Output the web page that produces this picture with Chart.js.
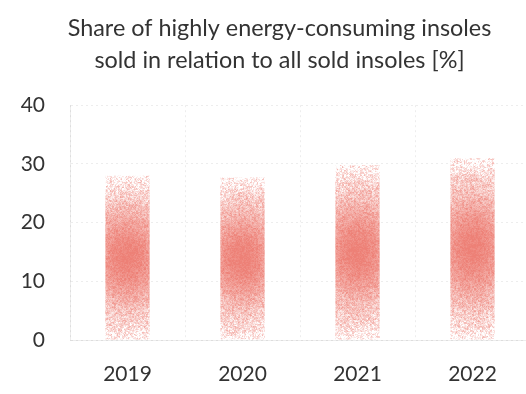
<!DOCTYPE html>
<html>
<head>
<meta charset="utf-8">
<script src="https://cdn.jsdelivr.net/npm/chart.js@4/dist/chart.umd.min.js"></script>
<style>
  html, body { margin: 0; padding: 0; background: #fff; overflow: hidden; }
  #wrap { position: absolute; left: 0; top: 0; width: 560px; height: 394px; }
</style>
</head>
<body>
<div id="wrap"><canvas id="insoles" width="560" height="394"></canvas></div>
<script>
const categories = ['2019', '2020', '2021', '2022'];
const shareValues = [28, 27.7, 29.8, 31];
const yTicks = [0, 10, 20, 30, 40];

const titleLines = [
  'Share of highly energy-consuming insoles',
  'sold in relation to all sold insoles [%]'
];

// integer hash, gives a fixed speckle per pixel
function dot(x, y) {
  let h = (Math.imul(x, 374761393) + Math.imul(y, 668265263)) | 0;
  h = Math.imul(h ^ (h >>> 13), 1274126177);
  h = h ^ (h >>> 16);
  return (h >>> 0) / 4294967296;
}

// ink strength at relative height t (0 = base, 1 = top), u = -1..1 across
function inkAt(t, u) {
  const v = Math.exp(-Math.pow((t - 0.5) / 0.38, 2));
  const top = Math.min(1, (1 - t) / 0.1);
  const bottom = Math.min(1, t / 0.06);
  return (0.95 * v * (1 - 0.2 * u * u) + 0.03) * (0.35 + 0.65 * top) * (0.4 + 0.6 * bottom);
}

const grain = {
  id: 'grain',
  afterDatasetsDraw(chart) {
    const ctx = chart.ctx;
    chart.getDatasetMeta(0).data.forEach(bar => {
      const p = bar.getProps(['x', 'y', 'base', 'width'], true);
      const x0 = Math.floor(p.x - p.width / 2);
      const x1 = Math.ceil(p.x + p.width / 2);
      const y0 = Math.floor(p.y);
      const y1 = Math.ceil(p.base);
      const w = x1 - x0, h = y1 - y0;
      if (w <= 0 || h <= 0) return;
      const img = ctx.getImageData(x0, y0, w, h);
      const d = img.data;
      for (let j = 0; j < h; j++) {
        const t = 1 - (j + 0.5) / h;
        for (let i = 0; i < w; i++) {
          const k = (j * w + i) * 4;
          if (d[k + 3] === 0 || (d[k] > 250 && d[k + 1] > 250)) continue;
          const u = 2 * (i + 0.5) / w - 1;
          const px = x0 + i, py = y0 + j;
          const n = 0.55 * dot(px, py) + 0.45 * dot(px >> 1, (py >> 1) + 7919);
          const ink = inkAt(t, u);
          let a = ink + (n - 0.5) * 1.05 * (1 - 0.8 * ink);
          if (a < 0) a = 0;
          if (a > 1) a = 1;
          for (let c = 0; c < 3; c++) {
            d[k + c] = 255 + (d[k + c] - 255) * a;
          }
        }
      }
      ctx.putImageData(img, x0, y0);
    });
  }
};

const textColor = '#333333';
const gridColor = 'rgba(0,0,0,0.07)';

new Chart(document.getElementById('insoles'), {
  type: 'bar',
  data: {
    labels: categories,
    datasets: [{
      data: shareValues,
      backgroundColor: 'rgb(237,128,118)',
      borderWidth: 0,
      categoryPercentage: 1,
      barPercentage: 0.385
    }]
  },
  plugins: [grain],
  options: {
    responsive: false,
    animation: false,
    layout: { padding: { left: 0, right: 1, top: 0, bottom: 0 } },
    plugins: {
      legend: { display: false },
      tooltip: { enabled: false },
      title: {
        display: true,
        text: titleLines,
        color: textColor,
        font: { family: 'Lato', size: 23.4, weight: 'normal', lineHeight: 1.38 },
        padding: { top: 12, bottom: 28.6 }
      }
    },
    scales: {
      x: {
        grid: { color: gridColor, offset: true, drawTicks: false },
        border: { color: gridColor, dash: [2, 3] },
        ticks: {
          color: textColor,
          font: { family: 'Lato', size: 21 },
          padding: 22
        },
        afterFit(scale) { scale.height = 54; }
      },
      y: {
        min: 0,
        max: 40,
        afterBuildTicks(scale) { scale.ticks = yTicks.map(v => ({ value: v })); },
        grid: { color: gridColor, drawTicks: false },
        border: { color: gridColor, dash: [2, 3] },
        ticks: {
          color: textColor,
          font: { family: 'Lato', size: 21 },
          padding: 25
        },
        afterFit(scale) { scale.width = 70; }
      },
      // empty right-hand strip so the plot ends where the page does
      gutter: {
        position: 'right',
        min: 0,
        max: 40,
        grid: { display: false },
        border: { display: false },
        ticks: { display: false },
        afterFit(scale) { scale.width = 29; }
      }
    }
  }
});
</script>
</body>
</html>
